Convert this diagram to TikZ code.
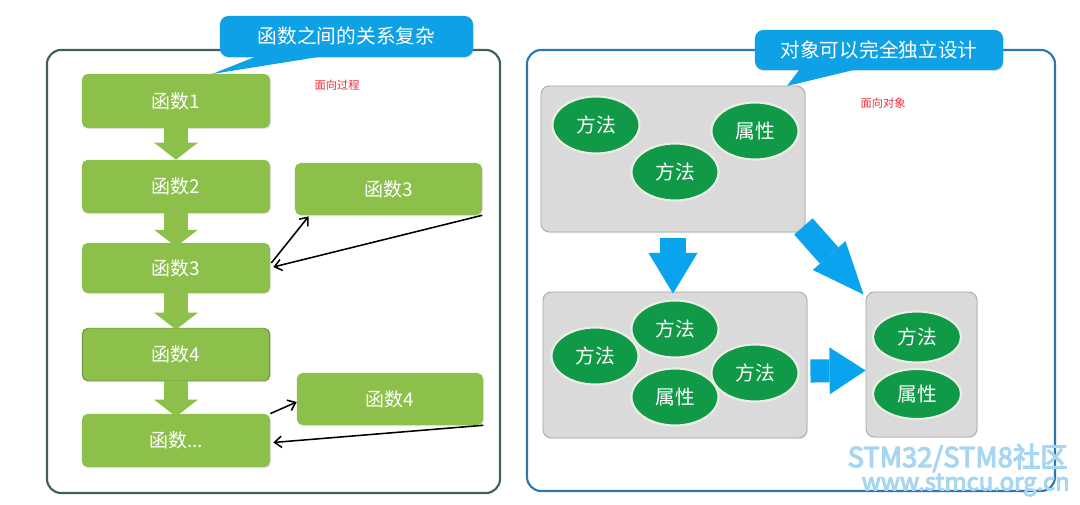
\documentclass[tikz,border=0pt]{standalone}
\usepackage{fontspec}
\setmainfont{Noto Sans CJK SC}
\newfontfamily\wmfont{Noto Sans CJK SC}[FakeBold=4]
\usetikzlibrary{shapes,arrows.meta,calc,shadows}
\definecolor{boxgreen}{HTML}{8CC04B}
\definecolor{ovalgreen}{HTML}{109A47}
\definecolor{ovalrim}{HTML}{ECEEE6}
\definecolor{calloutblue}{HTML}{0EA1E6}
\definecolor{arrowblue}{HTML}{0AA3EE}
\definecolor{grayfill}{HTML}{DADADA}
\definecolor{grayrim}{HTML}{A8A8A8}
\definecolor{leftframe}{HTML}{40605F}
\definecolor{rightframe}{HTML}{2F77B2}
\definecolor{notered}{HTML}{F0303A}
\definecolor{wmblue}{HTML}{A6D6F2}

\begin{document}
\begin{tikzpicture}[x=0.025cm,y=-0.025cm,
  funcbox/.style={rectangle,rounded corners=4pt,fill=boxgreen,text=white,minimum width=4.7cm,minimum height=1.33cm,font=\fontsize{13.5}{16}\selectfont,drop shadow={opacity=0.2,shadow xshift=0.6pt,shadow yshift=-0.8pt}},
  callout/.style={rectangle,rounded corners=6pt,fill=calloutblue,text=white,font=\fontsize{14}{17}\selectfont,drop shadow={opacity=0.2,shadow xshift=0.6pt,shadow yshift=-0.8pt}},
  objbox/.style={rectangle,rounded corners=6pt,fill=grayfill,draw=grayrim,line width=0.6pt,drop shadow={opacity=0.15,shadow xshift=0.6pt,shadow yshift=-0.8pt}},
  oval/.style={ellipse,fill=ovalgreen,draw=ovalrim,line width=1.5pt,text=white,inner sep=0pt,minimum width=2.175cm,minimum height=1.425cm,font=\fontsize{14}{17}\selectfont},
  greenarrow/.style={draw=boxgreen,line width=17pt,-{Triangle[length=12pt,width=31pt,line width=0pt]}},
  conn/.style={draw=black,line width=1.1pt,-{Straight Barb[length=5pt,width=8pt]}},
  note/.style={text=notered,font=\fontsize{8}{10}\selectfont},
  wm/.style={text=wmblue,anchor=east,inner sep=0pt,font=\wmfont\fontsize{19.5}{22}\selectfont}]
\useasboundingbox (0,0) rectangle (1080,505) ;
\fill[white] (0,0) rectangle (1080,505) ;

% two frames
\draw[leftframe,line width=1.5pt,rounded corners=10pt] (47,50) rectangle (500,493) ;
\draw[rightframe,line width=1.5pt,rounded corners=10pt] (527,50) rectangle (1055,491) ;

% callouts
\coordinate (tip1) at (212,74) ;
\coordinate (tip2) at (787,86) ;
\node [callout,minimum width=6.325cm,minimum height=1.025cm] (c1) at (346.5,36.5) {函数之间的关系复杂};
\node [callout,minimum width=6.2cm,minimum height=1cm] (c2) at (879,50) {对象可以完全独立设计};
\fill[calloutblue] ($(c1.south west)+(37,-1)$) -- ($(c1.south west)+(103,-1)$) -- (tip1) -- cycle ;
\fill[calloutblue] ($(c2.south west)+(45,-1)$) -- ($(c2.south west)+(102,-1)$) -- (tip2) -- cycle ;
\node [note] (n1) at (337,85) {面向过程};
\node [note] (n2) at (883,103) {面向对象};

% left side
       \node [funcbox,minimum height=1.35cm]  (f1) at (176,101) {函数1};
       \node [funcbox]  (f2) at (176,186.5) {函数2};
       \node [funcbox,minimum height=1.25cm]  (f3) at (176,268) {函数3};
       \node [funcbox,fill=boxgreen!75!black]  (f4r) at (176,354.5) {};
       \node [funcbox,minimum width=4.65cm,minimum height=1.3cm,drop shadow={opacity=0}]  (f4) at (176,354.5) {函数4};
       \node [funcbox]  (f5) at (176,440.5) {函数...};
       \node [funcbox,minimum width=4.675cm,minimum height=1.3cm]  (g3) at (388.5,189) {函数3};
       \node [funcbox,minimum width=4.65cm,minimum height=1.3cm]  (g4) at (390,399) {函数4};
\draw[greenarrow] (f1.south) -- (f2.north) ;
\draw[greenarrow] (f2.south) -- ($(f3.north)+(0,4)$) ;
\draw[greenarrow] (f3.south) -- ($(f4r.north)+(0,2)$) ;
\draw[greenarrow] (f4r.south) -- ($(f5.north)+(0,3)$) ;
\draw[conn] ($(f3.east)+(1,-5)$) -- ($(g3.south west)+(14,1)$) ;
\draw[conn] (g3.south east) -- ($(f3.east)+(3,-1)$) ;
\draw[conn] (f5.north east) -- ($(g4.west)+(0,3)$) ;
\draw[conn] (g4.south east) -- ($(f5.east)+(3,2)$) ;

% right side
       \node [objbox,minimum width=6.6cm,minimum height=3.65cm]  (b1) at (673,159) {};
       \node [objbox,minimum width=6.6cm,minimum height=3.65cm]  (b2) at (675,365) {};
       \node [objbox,minimum width=2.775cm,minimum height=3.625cm]  (b3) at (921.5,364.5) {};
       \node [oval]  (m1) at (596,125) {方法};
       \node [oval]  (m2) at (675,172) {方法};
       \node [oval]  (p1) at (755,131) {属性};
       \node [oval]  (m3) at (595,356) {方法};
       \node [oval]  (m4) at (675,329) {方法};
       \node [oval]  (p2) at (675,397) {属性};
       \node [oval]  (m5) at (755,373) {方法};
       \node [oval,minimum width=2.2cm,minimum height=1.275cm]  (m6) at (917,337) {方法};
       \node [oval,minimum width=2.2cm,minimum height=1.25cm]  (p3) at (917,394) {属性};
\draw[arrowblue,line width=19pt,-{Triangle[length=29pt,width=35pt,line width=0pt]}] ($(b1.south)+(0,6)$) -- ($(b2.north)+(-2,2)$) ;
\draw[arrowblue,line width=17.5pt,-{Triangle[length=37pt,width=31pt,line width=0pt]}] ($(b1.south east)+(-2,-6)$) -- ($(b3.north west)+(-2,3)$) ;
\draw[arrowblue,line width=16.4pt,-{Triangle[length=25.6pt,width=33.4pt,line width=0pt]}] ($(b2.east)+(3,6)$) -- ($(b3.west)+(0,6)$) ;

% watermark
\node [wm] (w1) at (1068,458) {STM32/STM8社区};
\node [wm,font=\wmfont\fontsize{17}{20}\selectfont] (w2) at (1070,485) {www.stmcu.org.cn};
\end{tikzpicture}
\end{document}
